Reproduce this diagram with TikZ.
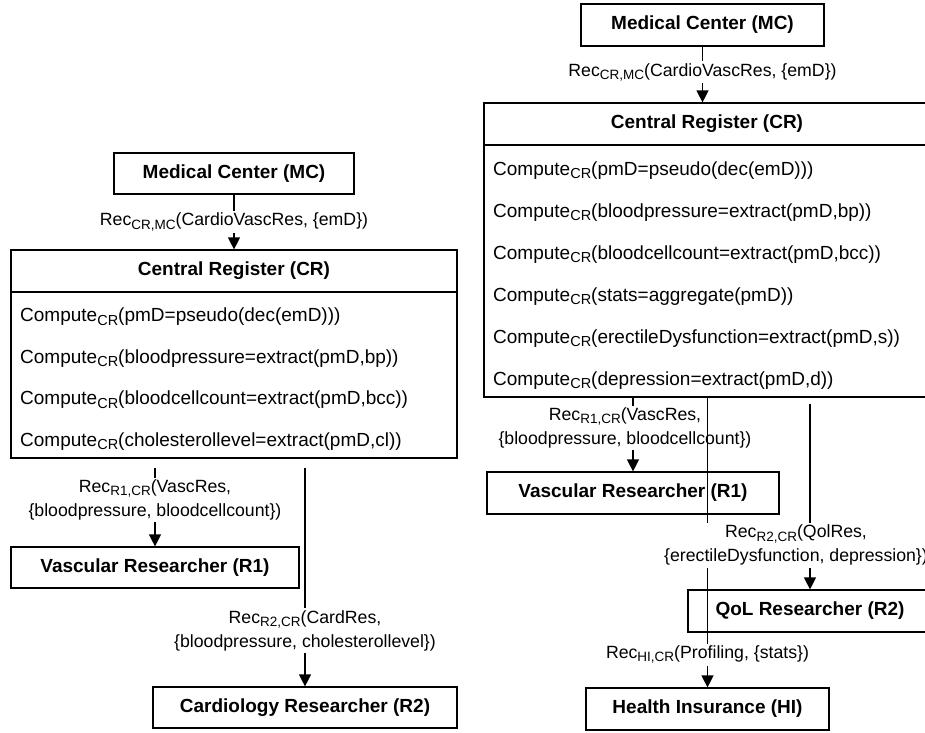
\documentclass[tikz,border=0pt]{standalone}
\usepackage{fontspec}
\setmainfont{Liberation Sans}
\usetikzlibrary{positioning}
\usetikzlibrary{arrows.meta}

\newcommand{\sbs}[1]{\raisebox{-0.35ex}{\fontsize{14.5}{15}\selectfont #1}}
\newcommand{\lsbs}[1]{\raisebox{-0.35ex}{\fontsize{13.5}{14}\selectfont #1}}

\begin{document}
\fontsize{19}{24}\selectfont
\begin{tikzpicture}[x=1pt, y=-1pt,
  box/.style={draw, line width=1.2pt, inner sep=0pt, font=\bfseries},
  flow/.style={line width=1.2pt, -{Triangle[width=12pt,length=12pt]}},
  lbl/.style={fill=white, inner sep=2pt, align=center, font=\fontsize{17.7}{24}\selectfont}]

 \useasboundingbox (0,0) rectangle (925,732);

 %left: four values
 \node[box, minimum width=240pt, minimum height=41pt] (MCL) at (234,173.5) {Medical Center (MC)};
 \node[box, minimum width=446pt, minimum height=42pt] (CRLh) at (234,271) {Central Register (CR)};
 \node[box, minimum width=446pt, minimum height=166pt] (CRLb) at (234,375) {};
 \node[box, minimum width=288pt, minimum height=41pt] (R1L) at (155,567.5) {Vascular Researcher (R1)};
 \node[box, minimum width=304pt, minimum height=41pt] (R2L) at (305,707.5) {Cardiology Researcher (R2)};

 \foreach \i/\txt in {0/{pmD=pseudo(dec(emD)))}, 1/{bloodpressure=extract(pmD,bp))},
                      2/{bloodcellcount=extract(pmD,bcc))}, 3/{cholesterollevel=extract(pmD,cl))}} {
         \node[anchor=base west, inner sep=0pt] (CL\i) at (20, 321.5+41.5*\i) {Compute\sbs{CR}(\txt};
 }

 \draw[flow] (MCL.south) -- node[lbl] (lMCL) {Rec\lsbs{CR,MC}(CardioVascRes, \{emD\})} (CRLh.north);
 \draw[flow, shorten <=9pt] (CRLb.south -| R1L.north) -- node[lbl, pos=0.47] (lR1L)
      {Rec\lsbs{R1,CR}(VascRes,\\\{bloodpressure, bloodcellcount\})} (R1L.north);
 \draw[flow, shorten <=9pt] (CRLb.south -| R2L.north) -- node[lbl, pos=0.755] (lR2L)
      {Rec\lsbs{R2,CR}(CardRes,\\\{bloodpressure, cholesterollevel\})} (R2L.north);

 %right: six values
 \node[box, minimum width=243pt, minimum height=42pt] (MCR) at (702.5,25) {Medical Center (MC)};
 \node[box, minimum width=446pt, minimum height=42pt] (CRRh) at (707,124) {Central Register (CR)};
 \node[box, minimum width=446pt, minimum height=252pt] (CRRb) at (707,271) {};
 \node[box, minimum width=292pt, minimum height=42pt] (R1R) at (633,493) {Vascular Researcher (R1)};
 \node[box, minimum width=244pt, minimum height=42pt] (QoL) at (810,611) {QoL Researcher (R2)};
 \node[box, minimum width=243pt, minimum height=42pt] (HI) at (707.5,709) {Health Insurance (HI)};

 \foreach \i/\txt in {0/{pmD=pseudo(dec(emD)))}, 1/{bloodpressure=extract(pmD,bp))},
                      2/{bloodcellcount=extract(pmD,bcc))}, 3/{stats=aggregate(pmD))},
                      4/{erectileDysfunction=extract(pmD,s))}, 5/{depression=extract(pmD,d))}} {
         \node[anchor=base west, inner sep=0pt] (CR\i) at (493, 175+42*\i) {Compute\sbs{CR}(\txt};
 }

 \draw[flow] (MCR.south) -- node[lbl, pos=0.46] (lMCR) {Rec\lsbs{CR,MC}(CardioVascRes, \{emD\})} (MCR.south |- CRRh.north);
 \draw[flow] (CRRb.south -| R1R.north) -- node[lbl, pos=0.41, xshift=-8pt] (lR1R)
      {Rec\lsbs{R1,CR}(VascRes,\\\{bloodpressure, bloodcellcount\})} (R1R.north);
 %crosses R1
 \draw[flow] (CRRb.south -| HI.north) -- node[lbl, pos=0.887] (lHI) {Rec\lsbs{HI,CR}(Profiling, \{stats\})} (HI.north);
 \draw[flow, shorten <=6pt] (CRRb.south -| QoL.north) -- node[lbl, pos=0.77, xshift=-14pt] (lQoL)
      {Rec\lsbs{R2,CR}(QolRes,\\\{erectileDysfunction, depression\})} (QoL.north);

\end{tikzpicture}
\end{document}
